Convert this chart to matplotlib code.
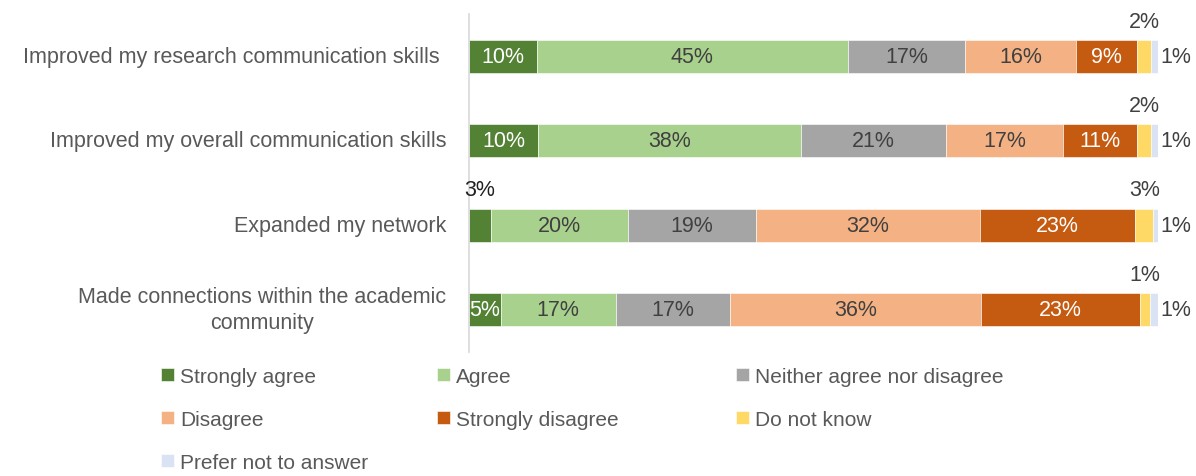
import numpy as np
import matplotlib
matplotlib.use('Agg')
import matplotlib.pyplot as plt
import matplotlib.transforms as mtrans

plt.rcParams['font.family'] = ['Liberation Sans', 'DejaVu Sans']

categories = ['Improved my research communication skills',
              'Improved my overall communication skills',
              'Expanded my network',
              'Made connections within the academic\ncommunity']
responses = ['Strongly agree', 'Agree', 'Neither agree nor disagree', 'Disagree',
             'Strongly disagree', 'Do not know', 'Prefer not to answer']
colors = ['#548235', '#A9D18E', '#A5A5A5', '#F4B183', '#C55A11', '#FFD966', '#DAE3F3']
text_colors = ['white', '#404040', '#404040', '#404040', 'white', '#404040', '#404040']

# share of respondents (%) per response, one list per category row
strongly_agree = [9.8, 10.0, 3.2, 4.6]
agree = [45.2, 38.2, 19.9, 16.7]
neither = [17.0, 21.0, 18.6, 16.6]
disagree = [16.1, 17.0, 32.4, 36.4]
strongly_disagree = [8.9, 10.8, 22.6, 23.1]
do_not_know = [2.0, 2.0, 2.6, 1.4]
prefer_not = [1.0, 1.0, 0.7, 1.2]
series = [strongly_agree, agree, neither, disagree, strongly_disagree, do_not_know, prefer_not]

fs = 15.5

fig = plt.figure(figsize=(11.96, 4.77), dpi=100)
ax = fig.add_axes([469 / 1196, 1 - 352.7 / 477, 689 / 1196, 337.4 / 477])

y = np.arange(len(categories))
left = np.zeros(len(categories))
bars = []
for i, vals in enumerate(series):
    vals = np.array(vals)
    b = ax.barh(y, vals, left=left, height=0.39, color=colors[i],
                edgecolor='white', linewidth=0.4, label=responses[i])
    bars.append(b)
    for j, v in enumerate(vals):
        lab = f'{v:.0f}%'
        cx = left[j] + v / 2
        if i == 5:
            ax.annotate(lab, (cx, y[j] - 0.195), xytext=(0, 6), textcoords='offset points',
                        ha='center', va='bottom', fontsize=fs, color='#404040')
        elif i == 6:
            ax.annotate(lab, (left[j] + v, y[j]), xytext=(1.5, 0), textcoords='offset points',
                        ha='left', va='center', fontsize=fs, color='#404040')
        elif v < 4:
            ax.annotate(lab, (cx, y[j] - 0.195), xytext=(0, 6), textcoords='offset points',
                        ha='center', va='bottom', fontsize=fs, color='#202020')
        else:
            ax.text(cx, y[j], lab, ha='center', va='center', fontsize=fs,
                    color=text_colors[i])
    left += vals

ax.set_xlim(0, 100)
ax.set_ylim(3.5, -0.5)
ax.set_xticks([])
ax.set_yticks([])
for s in ['top', 'right', 'bottom']:
    ax.spines[s].set_visible(False)
ax.spines['left'].set_color('#D9D9D9')
ax.spines['left'].set_linewidth(1.2)

# category labels, right aligned next to the axis
for j, cat in enumerate(categories):
    off = -29 if j == 0 else -23
    tr = ax.get_yaxis_transform() + mtrans.ScaledTranslation(off / 100, 0, fig.dpi_scale_trans)
    ax.text(0, y[j], cat, transform=tr, ha='right', va='center', multialignment='center',
            fontsize=fs, color='#595959', linespacing=1.35)

# legend in three columns
cols = [[0, 3, 6], [1, 4], [2, 5]]
col_x = [161, 437, 736]
for c, idx in zip(col_x, cols):
    lg = fig.legend([bars[k] for k in idx], [responses[k] for k in idx],
                    loc='upper left', bbox_to_anchor=(c / 1196, 1 - 368 / 477),
                    frameon=False, fontsize=15, handlelength=0.6, handleheight=0.6,
                    handletextpad=0.3, labelspacing=1.15, borderpad=0, borderaxespad=0)
    for t in lg.get_texts():
        t.set_color('#595959')

fig.savefig('out.png', dpi=100)
